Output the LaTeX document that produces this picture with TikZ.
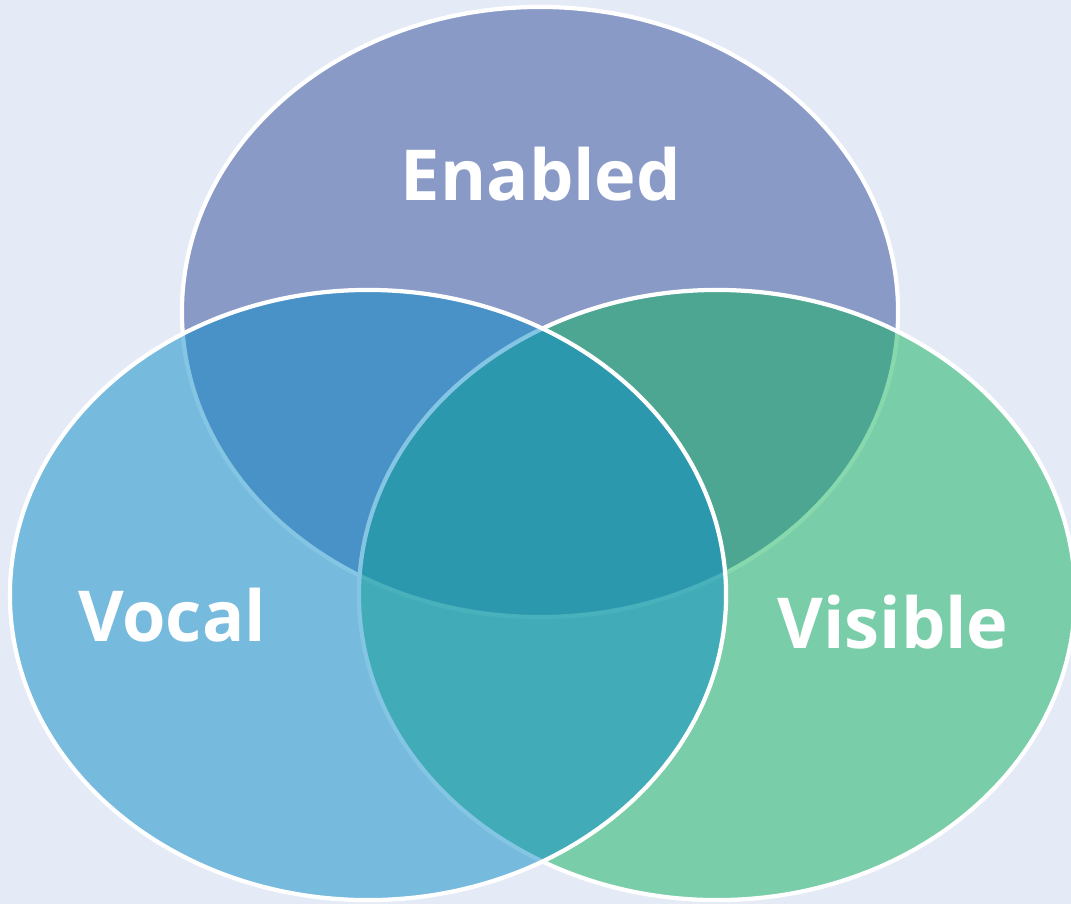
\documentclass[tikz,border=0pt]{standalone}
\usepackage{fontspec}
\setmainfont{Open Sans}
\usetikzlibrary{shapes.geometric}

\definecolor{pagebg}{RGB}{228,234,246}
\definecolor{enabledfill}{RGB}{48,76,154}
\definecolor{vocalfill}{RGB}{10,140,200}
\definecolor{visiblefill}{RGB}{18,178,94}

\begin{document}
\begin{tikzpicture}[x=0.025cm,y=-0.025cm,
    venn/.style={ellipse,draw=white,line width=3pt,fill opacity=0.5,inner sep=0pt,
                 minimum width=17.9cm,minimum height=15.25cm},
    setname/.style={text=white,anchor=base,font=\bfseries\fontsize{50}{56}\selectfont}]

  \fill[pagebg] (0,0) rectangle (1071,904);
  \useasboundingbox (0,0) rectangle (1071,904);

  % the three sets, later ones lie over the earlier borders
  \node[venn,fill=enabledfill] (enabled) at (540,312) {};
  \node[venn,fill=visiblefill] (visible) at (717,595) {};
  \node[venn,fill=vocalfill]   (vocal)   at (368,595) {};

  \node[setname] (enabledname) at (541,200) {Enabled};
  \node[setname] (vocalname)   at (172,641) {Vocal};
  \node[setname] (visiblename) at (893,648) {Visible};

\end{tikzpicture}
\end{document}
